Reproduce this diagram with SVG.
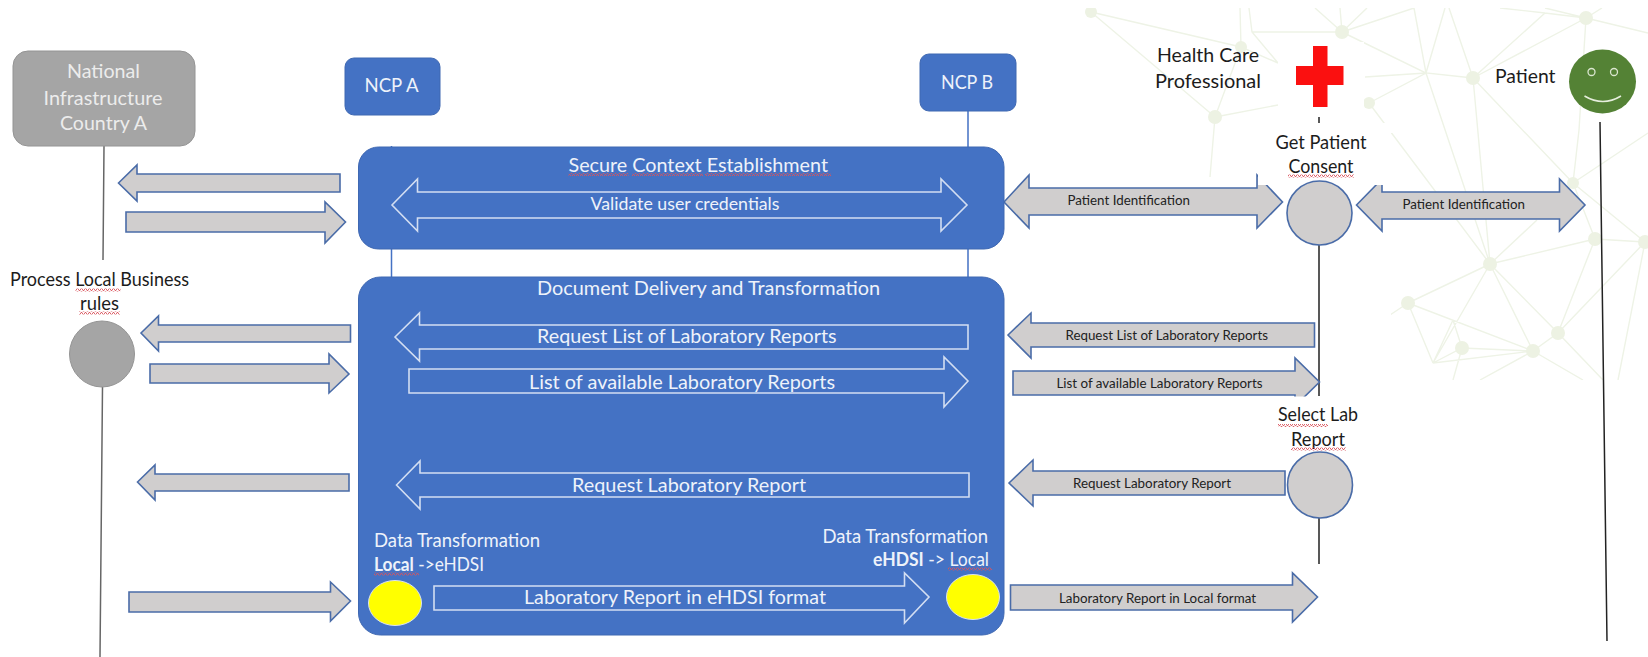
<svg xmlns="http://www.w3.org/2000/svg" width="1648" height="657" viewBox="0 0 1648 657">
<style>
text{font-family:Lato,"Liberation Sans",sans-serif}
.k{fill:#1c1c1c;font-size:20px}
.w{fill:#eef2fa;font-size:20px}
.g{fill:#ececec;font-size:20px}
.s{fill:#222;font-size:12.500px}
.d{font-size:18.500px}
.ga{fill:#d0cece;stroke:#4a6ca8;stroke-width:1.6}
.wa{fill:none;stroke:#d3def2;stroke-width:1.6}
.box{fill:#4472c4;stroke:#3f68b2;stroke-width:1}
.bl{stroke:#4472c4;stroke-width:1.5;fill:none}
.ll{stroke:#222;stroke-width:1.5;fill:none}
.lg{stroke:#666;stroke-width:1.5;fill:none}
.net path{fill:none;stroke:#eef3e6;stroke-width:1.400}
.net circle{fill:#edf2e3}
.sq{fill:url(#sq)}
</style>
<defs>
<pattern id="sq" width="4" height="3" patternUnits="userSpaceOnUse"><path d="M0 2.5L1 .5 2 .5 3 2.5 4 2.5" fill="none" stroke="#d9535c" stroke-width=".9"/></pattern>
<clipPath id="nc"><rect x="1040" y="8" width="608" height="372"/></clipPath>
</defs>
<rect width="1648" height="657" fill="#fff"/>
<g id="background" class="net" clip-path="url(#nc)">
<path d="M1091 12L1241 47 1278 63M1091 12L1215 117M1252 32L1342 32M1240 8L1241 47M1249 8L1252 32 1278 63M1241 47L1215 117 1278 105M1215 117L1210 177M1342 32L1315 8M1342 32L1340 8M1342 32L1367 8M1342 32L1414 8 1426 73M1342 32L1426 73 1369 103M1445 8L1426 73 1473 78M1365 77L1426 73M1449 8L1473 78 1545 13 1586 18M1473 78L1586 18M1500 8L1545 13M1586 18L1648 33M1586 18L1602 8M1586 18L1579 130 1573 183M1545 8L1586 18M1473 78L1573 183M1473 78L1490 264M1426 73L1490 264M1369 103L1490 264M1573 183L1648 133M1573 183L1595 239M1573 183L1645 242M1595 239L1490 264M1595 239L1645 242M1595 239L1558 333M1645 242L1558 333M1645 242L1618 380M1490 264L1408 303M1490 264L1533 351M1490 264L1558 333M1490 264L1433 363M1490 264L1537 220M1408 303L1533 351M1408 303L1433 363M1408 303L1357 337M1453 320L1433 363M1453 320L1462 348M1433 363L1462 348 1533 351M1433 363L1533 351M1533 351L1558 333 1603 380M1533 351L1583 380M1462 348L1453 380M1533 351L1480 380"/>
<circle cx="1091" cy="12" r="6"/><circle cx="1241" cy="47" r="6"/><circle cx="1342" cy="32" r="7"/><circle cx="1473" cy="78" r="7"/><circle cx="1586" cy="18" r="7"/><circle cx="1369" cy="103" r="6"/><circle cx="1215" cy="117" r="7"/><circle cx="1573" cy="183" r="6"/><circle cx="1595" cy="239" r="7"/><circle cx="1645" cy="242" r="7"/><circle cx="1490" cy="264" r="7"/><circle cx="1408" cy="303" r="7"/><circle cx="1462" cy="348" r="7"/><circle cx="1533" cy="351" r="7"/><circle cx="1558" cy="333" r="7"/>
</g>
<g id="masks" fill="#fff">
<rect x="1278" y="42" width="86" height="83"/>
<rect x="1278" y="123" width="116" height="10"/>
<rect x="1225" y="133" width="166" height="250"/>
</g>
<g id="connectors">
<path class="lg" d="M104 146L103 260M102.500 387L100 657"/>
<path class="bl" d="M391.500 146V277M968 111V277"/>
<path class="ll" d="M1319 117V123M1319 245V396M1319 518V564M1600 122L1607 641"/>
<g id="arrows-left">
<polygon class="ga" points="118.500,183 137,165 137,174 340,174 340,192 137,192 137,201"/>
<polygon class="ga" points="126,212 325,212 325,202 345.500,222 325,243 325,232 126,232"/>
<polygon class="ga" points="141,333 158.500,316 158.500,325 350.500,325 350.500,342 158.500,342 158.500,351"/>
<polygon class="ga" points="150,364 329,364 329,354 349,374 329,393 329,383 150,383"/>
<polygon class="ga" points="137.500,482 155,465 155,474 349,474 349,491 155,491 155,500"/>
<polygon class="ga" points="129,592 330.500,592 330.500,582 350.500,601 330.500,621 330.500,612 129,612"/>
</g>
<g id="arrows-right">
<polygon class="ga" points="1004,202 1029,175 1029,188 1257,188 1257,175 1282.500,202 1257,228 1257,215 1029,215 1029,228"/>
<polygon class="ga" points="1356.500,205 1382,179 1382,192 1559.500,192 1559.500,179 1585,205 1559.500,231 1559.500,219 1382,219 1382,231"/>
<rect x="1258" y="170" width="126" height="15" fill="#fff"/>
<polygon class="ga" points="1008,335 1031,313 1031,323 1314.500,323 1314.500,347 1031,347 1031,358"/>
<polygon class="ga" points="1013,371 1295,371 1295,358 1319.500,382 1295,406 1295,395 1013,395"/>
<rect x="1290" y="396.500" width="35" height="12" fill="#fff"/>
<polygon class="ga" points="1009,483 1033,460 1033,471 1285,471 1285,495 1033,495 1033,506"/>
<polygon class="ga" points="1010.500,585 1292.500,585 1292.500,573 1317.500,597 1292.500,622 1292.500,610 1010.500,610"/>
<text class="s" x="1067.500" y="205" textLength="122.500" lengthAdjust="spacingAndGlyphs">Patient Identification</text>
<text class="s" x="1402.500" y="209" textLength="122.500" lengthAdjust="spacingAndGlyphs">Patient Identification</text>
<text class="s" x="1065.500" y="340" textLength="202.500" lengthAdjust="spacingAndGlyphs">Request List of Laboratory Reports</text>
<text class="s" x="1056.500" y="388" textLength="206" lengthAdjust="spacingAndGlyphs">List of available Laboratory Reports</text>
<text class="s" x="1073" y="488" textLength="158" lengthAdjust="spacingAndGlyphs">Request Laboratory Report</text>
<text class="s" x="1059" y="603" textLength="197" lengthAdjust="spacingAndGlyphs">Laboratory Report in Local format</text>
</g>
</g>
<g id="national-infrastructure">
<rect x="13" y="51" width="182" height="95" rx="15" fill="#a5a5a5" stroke="#949494"/>
<text class="g" x="67" y="78" textLength="73" lengthAdjust="spacingAndGlyphs">National</text>
<text class="g" x="43.500" y="105" textLength="119" lengthAdjust="spacingAndGlyphs">Infrastructure</text>
<text class="g" x="60" y="130" textLength="87" lengthAdjust="spacingAndGlyphs">Country A</text>
</g>
<g id="ncp-a">
<rect x="345" y="58" width="95" height="57" rx="9" class="box"/>
<text class="w" x="364.500" y="92" textLength="54" lengthAdjust="spacingAndGlyphs">NCP A</text>
</g>
<g id="ncp-b">
<rect x="920" y="54" width="96" height="57" rx="9" class="box"/>
<text class="w" x="941" y="89" textLength="52" lengthAdjust="spacingAndGlyphs">NCP B</text>
</g>
<g id="process-local">
<text class="k" x="10" y="286" textLength="179" lengthAdjust="spacingAndGlyphs">Process Local Business</text>
<text class="k" x="80" y="310" textLength="39" lengthAdjust="spacingAndGlyphs">rules</text>
<rect class="sq" x="75.500" y="288.500" width="45" height="3"/>
<rect class="sq" x="79" y="311.500" width="41" height="3"/>
<ellipse cx="102" cy="354" rx="32.500" ry="33" fill="#a5a5a5" stroke="#949494"/>
</g>
<g id="secure-context">
<rect x="358.500" y="147" width="645.500" height="102" rx="20" class="box"/>
<text class="w" x="568.500" y="172" textLength="259.500" lengthAdjust="spacingAndGlyphs">Secure Context Establishment</text>
<rect class="sq" x="568.500" y="173" width="60" height="3"/>
<rect class="sq" x="632" y="173" width="71" height="3"/>
<rect class="sq" x="705" y="173" width="126" height="3"/>
<polygon class="wa" points="392,205 417.500,179 417.500,192 941,192 941,179 967,205 941,231 941,218 417.500,218 417.500,231"/>
<text class="w" style="font-size:16.500px" x="590.500" y="210" textLength="189" lengthAdjust="spacingAndGlyphs">Validate user credentials</text>
</g>
<g id="document-delivery">
<rect x="358.500" y="277" width="645.500" height="358" rx="22" class="box"/>
<text class="w" x="537" y="295" textLength="343" lengthAdjust="spacingAndGlyphs">Document Delivery and Transformation</text>
<polygon class="wa" points="395,337 419.500,313 419.500,325 968,325 968,349 419.500,349 419.500,361"/>
<text class="w" x="537" y="343" textLength="299.500" lengthAdjust="spacingAndGlyphs">Request List of Laboratory Reports</text>
<polygon class="wa" points="409,369 944,369 944,357 968,381 944,407 944,393 409,393"/>
<text class="w" x="529" y="389" textLength="306" lengthAdjust="spacingAndGlyphs">List of available Laboratory Reports</text>
<polygon class="wa" points="396.500,485 420,461 420,473 969,473 969,497 420,497 420,509"/>
<text class="w" x="572" y="492" textLength="234" lengthAdjust="spacingAndGlyphs">Request Laboratory Report</text>
<polygon class="wa" points="434,586 904.500,586 904.500,573 929,597 904.500,623 904.500,610 434,610"/>
<text class="w" x="524" y="604" textLength="302" lengthAdjust="spacingAndGlyphs">Laboratory Report in eHDSI format</text>
</g>
<g id="transform-local">
<text class="w d" x="374" y="547" textLength="166" lengthAdjust="spacingAndGlyphs">Data Transformation</text>
<text class="w d" x="374" y="571" textLength="110" lengthAdjust="spacingAndGlyphs"><tspan font-weight="700">Local</tspan> -&gt;eHDSI</text>
<rect class="sq" x="374" y="572.500" width="45" height="3"/>
<ellipse cx="395" cy="603" rx="26.500" ry="22.500" fill="#ffff00" stroke="#d9e2f3"/>
</g>
<g id="transform-ehdsi">
<text class="w d" x="822.500" y="543" textLength="165.500" lengthAdjust="spacingAndGlyphs">Data Transformation</text>
<text class="w d" x="873" y="566" textLength="116" lengthAdjust="spacingAndGlyphs"><tspan font-weight="700">eHDSI</tspan> -&gt; Local</text>
<rect class="sq" x="948" y="567.500" width="44" height="3"/>
<ellipse cx="973" cy="597" rx="26.500" ry="22.500" fill="#ffff00" stroke="#d9e2f3"/>
</g>
<g id="health-care-professional">
<text class="k" x="1157" y="62" textLength="102" lengthAdjust="spacingAndGlyphs">Health Care</text>
<text class="k" x="1155" y="88" textLength="106" lengthAdjust="spacingAndGlyphs">Professional</text>
<polygon fill="#fb1010" points="1313,46 1327.500,46 1327.500,66 1343.500,66 1343.500,85 1327.500,85 1327.500,107 1313,107 1313,85 1296,85 1296,66 1313,66"/>
</g>
<g id="patient">
<text class="k" x="1495" y="83" textLength="60.500" lengthAdjust="spacingAndGlyphs">Patient</text>
<ellipse cx="1602.500" cy="81.500" rx="33.500" ry="32" fill="#548235"/>
<circle cx="1591.500" cy="72" r="3.500" fill="none" stroke="#dbe6d0" stroke-width="1.300"/>
<circle cx="1614" cy="72" r="3.500" fill="none" stroke="#dbe6d0" stroke-width="1.300"/>
<path d="M1584.500 96Q1603 107 1621 96" fill="none" stroke="#e6eedd" stroke-width="1.500"/>
</g>
<g id="get-patient-consent">
<text class="k" x="1275.500" y="149" textLength="91" lengthAdjust="spacingAndGlyphs">Get Patient</text>
<text class="k" x="1288.500" y="173" textLength="65" lengthAdjust="spacingAndGlyphs">Consent</text>
<rect class="sq" x="1288" y="174.500" width="66" height="3"/>
<ellipse cx="1319.500" cy="213" rx="32.500" ry="32" fill="#d0cece" stroke="#4a6ca8" stroke-width="1.600"/>
</g>
<g id="select-lab-report">
<text class="k" x="1278" y="421" textLength="80" lengthAdjust="spacingAndGlyphs">Select Lab</text>
<text class="k" x="1291" y="446" textLength="54" lengthAdjust="spacingAndGlyphs">Report</text>
<rect class="sq" x="1278" y="424" width="50" height="3"/>
<rect class="sq" x="1291" y="447.500" width="55" height="3"/>
<ellipse cx="1320" cy="485" rx="32.500" ry="33" fill="#d0cece" stroke="#4a6ca8" stroke-width="1.600"/>
</g>
</svg>
